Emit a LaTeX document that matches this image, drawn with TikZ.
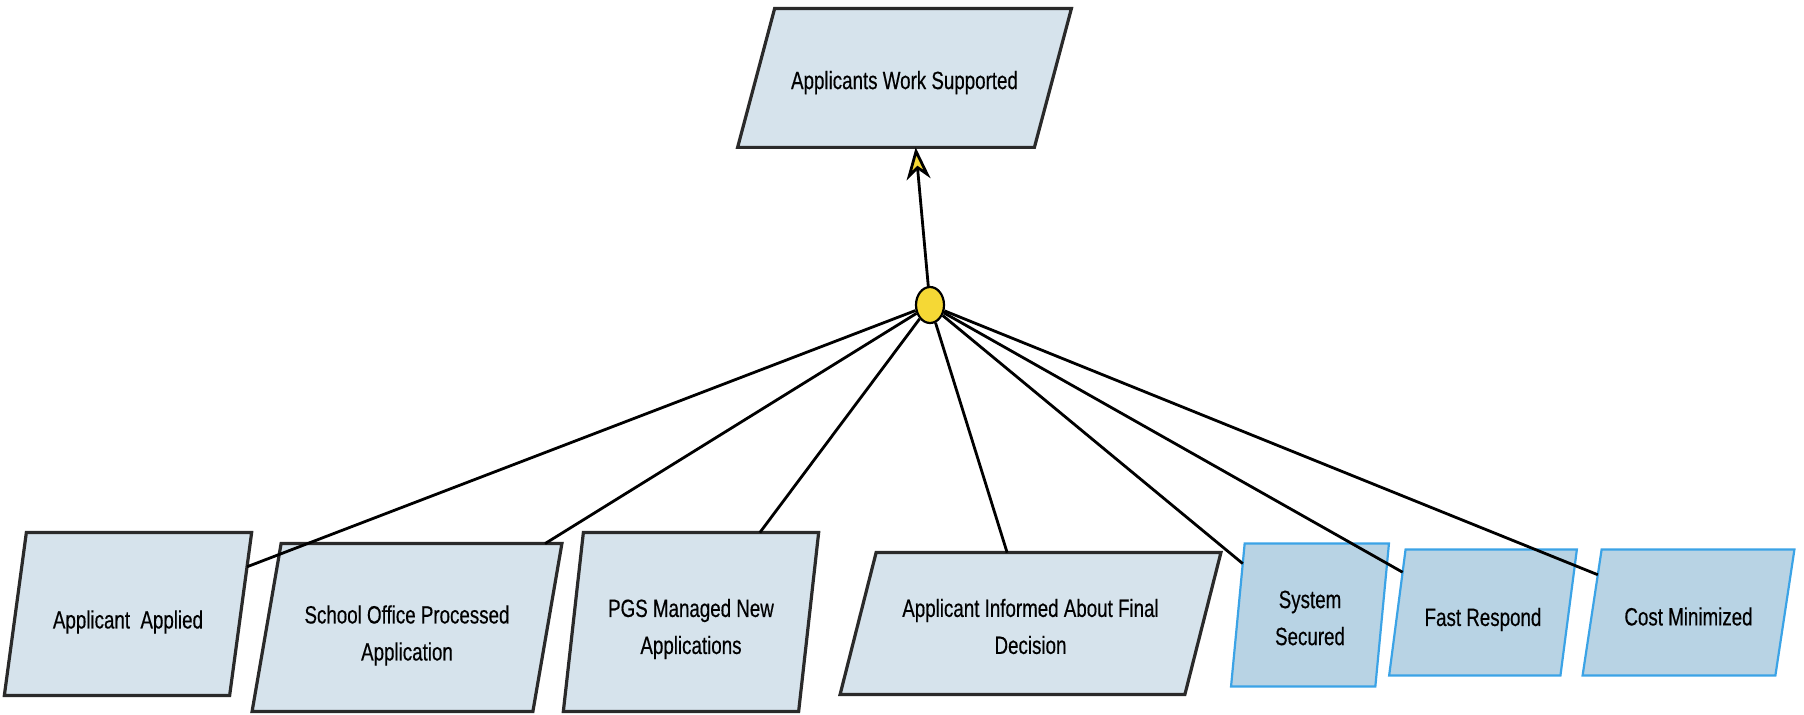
\documentclass[tikz,border=0pt]{standalone}
\usepackage{fontspec}
\newfontfamily\goalfont{Liberation Sans}[FakeStretch=0.75,FakeBold=0.4]
\usetikzlibrary{shapes.geometric,arrows.meta,calc,backgrounds}

\definecolor{goalfill}{HTML}{D6E3EC}
\definecolor{goalline}{HTML}{2A2A2A}
\definecolor{softfill}{HTML}{B8D3E4}
\definecolor{softline}{HTML}{3BA3E6}
\definecolor{dotyellow}{HTML}{F5D835}

\begin{document}
\begin{tikzpicture}[x=0.5pt,y=-0.5pt,
    goal/.style={inner sep=0pt,align=center,font=\goalfont\fontsize{12.5}{18.5}\selectfont},
    hard/.style={draw=goalline,fill=goalfill,line width=1.6pt},
    soft/.style={draw=softline,fill=softfill,line width=1.1pt},
    link/.style={line width=1.4pt}]
    \useasboundingbox (0,0) rectangle (1804,715);

    % goals (text sits a little below the middle of each box)
    \node [goal,minimum width=148pt,minimum height=69pt] (ws) at (904.5,82.6) {Applicants Work Supported};
    \node [goal,minimum width=112.25pt,minimum height=81pt] (aa) at (128,622) {Applicant\ \ Applied};
    \node [goal,minimum width=140pt,minimum height=83.5pt] (sop) at (407,635.5) {School Office Processed\\Application};
    \node [goal,minimum width=117.25pt,minimum height=89pt] (pgs) at (691,629) {PGS Managed New\\Applications};
    \node [goal,minimum width=172pt,minimum height=70.5pt] (aif) at (1030.5,626.5) {Applicant Informed About Final\\Decision};
    \node [goal,minimum width=71.75pt,minimum height=71pt] (ss) at (1310,618) {System\\Secured};
    \node [goal,minimum width=85.25pt,minimum height=62.5pt] (fr) at (1483,619.5) {Fast Respond};
    \node [goal,minimum width=96pt,minimum height=62.5pt] (cm) at (1688.5,616.5) {Cost Minimized};

    \begin{scope}[on background layer]
      \foreach \n/\s/\d/\k in {ws/9.25pt/2.3pt/hard, aa/5.5pt/4pt/hard, sop/7.25pt/4pt/hard,
                               pgs/5pt/3.5pt/hard, aif/9pt/1.5pt/hard, ss/3.4pt/1.5pt/soft,
                               fr/4.1pt/3.5pt/soft, cm/4.75pt/2pt/soft} {
        \coordinate (\n-tl) at ([xshift=\s,yshift=\d]\n.north west);
        \coordinate (\n-tr) at ([xshift=\s,yshift=\d]\n.north east);
        \coordinate (\n-br) at ([xshift=-\s,yshift=\d]\n.south east);
        \coordinate (\n-bl) at ([xshift=-\s,yshift=\d]\n.south west);
        \draw [\k] (\n-tl) -- (\n-tr) -- (\n-br) -- (\n-bl) -- cycle;
      }
    \end{scope}

    % refinement
    \node [ellipse,draw,fill=dotyellow,line width=1.1pt,inner sep=0pt,minimum width=14pt,minimum height=18pt] (dot) at (930,305) {};
    \draw [link,-{Stealth[length=16pt,width=12pt,inset=5pt,fill=dotyellow]}] (dot) -- ($(ws-bl)!0.6!(ws-br)$);
    \foreach \a/\b/\f in {aa-tr/aa-br/0.21, sop-tl/sop-tr/0.94, pgs-tl/pgs-tr/0.75, aif-tl/aif-tr/0.38,
                          ss-tl/ss-bl/0.14, fr-tl/fr-bl/0.18, cm-tl/cm-bl/0.2}
      \draw [link] (dot) -- ($(\a)!\f!(\b)$);
\end{tikzpicture}
\end{document}
